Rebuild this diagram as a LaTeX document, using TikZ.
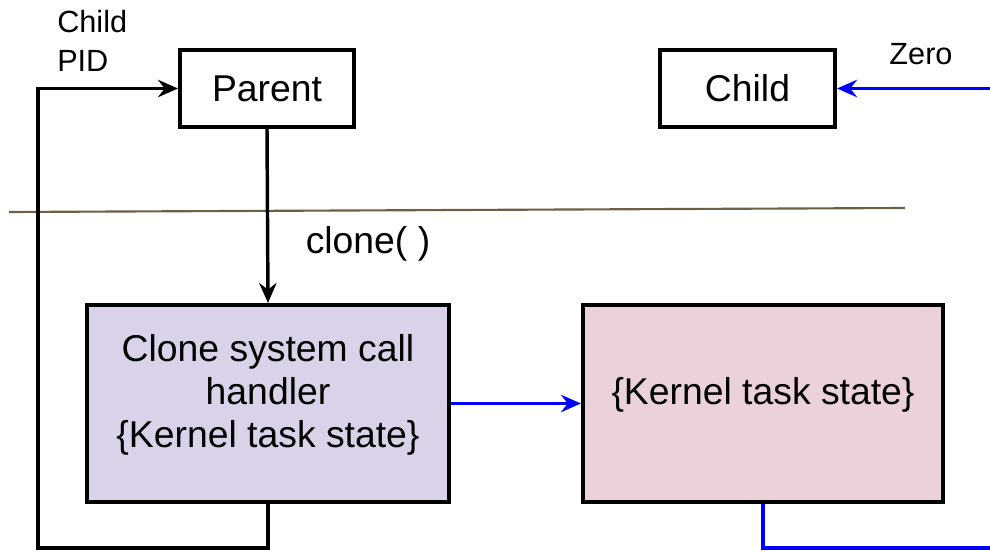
\documentclass[tikz,border=0pt]{standalone}
\usepackage{fontspec}
\setmainfont{Liberation Sans}
\usetikzlibrary{arrows.meta}
\definecolor{lav}{HTML}{D9D2E9}
\definecolor{pnk}{HTML}{EAD1DC}
\definecolor{divc}{HTML}{6B5F45}
\definecolor{blu}{HTML}{0000FF}
\begin{document}
\begin{tikzpicture}[x=0.75pt,y=-0.75pt,
 box/.style={draw=black,line width=3pt,inner sep=0pt,font=\fontsize{28}{32.25}\selectfont},
 blk/.style={draw=black,line width=2.6pt},
 bl/.style={draw=blu,line width=2.6pt},
 tip/.style={-{Stealth[length=15pt,width=13pt,inset=5pt]}},
 lab/.style={font=\fontsize{23}{29}\selectfont,inner sep=0pt,align=left},
 big/.style={font=\fontsize{28}{32.25}\selectfont,inner sep=0pt,align=center}]
\useasboundingbox (0,0) rectangle (990,552);
% boxes
\node[box,minimum width=130.5pt,minimum height=57.75pt] (parent) at (267,88.5) {Parent};
\node[box,minimum width=131.25pt,minimum height=57.75pt] (child) at (747.5,88.5) {Child};
\node[box,fill=lav,minimum width=271.5pt,minimum height=147.75pt] (clone) at (268,403.5) {};
\node[box,fill=pnk,minimum width=270pt,minimum height=147.75pt] (kernel) at (763,403.5) {};
\node[big] (clonetxt) at (268,395) {Clone system call\\handler\\\{Kernel task state\}};
\node[big,anchor=base] (kerneltxt) at (763,405) {\{Kernel task state\}};
% labels
\node[lab,anchor=north west] (pidlab) at (57,10) {Child\\PID};
\node[lab,anchor=base] (zerolab) at (921,65) {Zero};
\node[big,anchor=base] (clonelab) at (368,254) {clone( )};
% divider
\coordinate (d1) at (9,212);
\coordinate (d2) at (905,208);
\draw[divc,line width=1.6pt] (d1) -- (d2);
% connectors
\coordinate (lb) at (38,548);
\coordinate (rb) at (990,548);
\coordinate (rt) at (990,88.5);
\draw[blk,tip] (parent.south) -- (clone.north);
\draw[blk,tip] (clone.south) |- (lb) |- (parent.west);
\draw[bl,tip] (clone.east) -- (kernel.west);
\draw[bl] (kernel.south) |- (rb);
\draw[bl,tip] (rt) -- (child.east);
\end{tikzpicture}
\end{document}
